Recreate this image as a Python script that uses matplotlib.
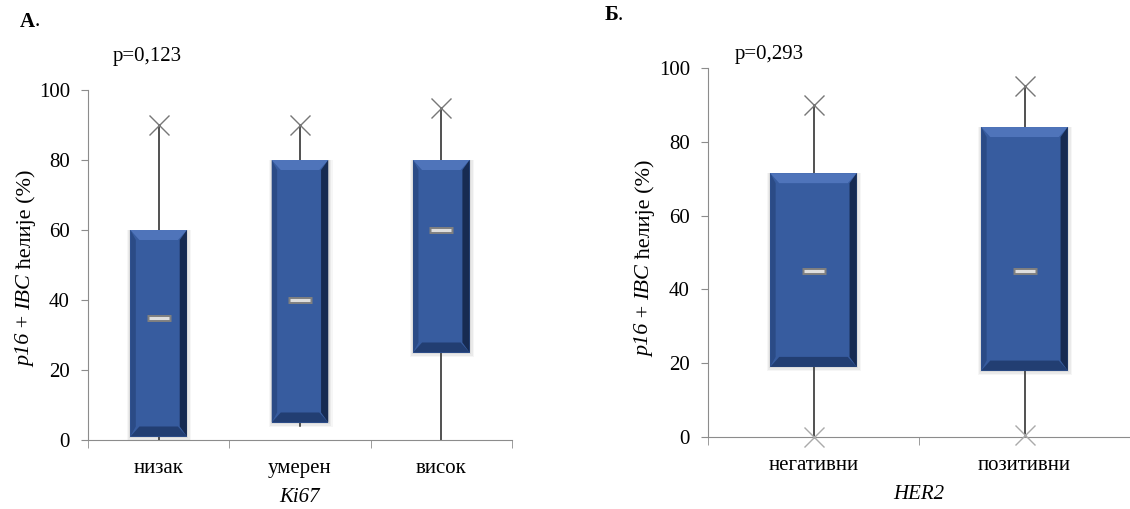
import matplotlib.pyplot as plt
from matplotlib.patches import Polygon, Rectangle
from matplotlib.transforms import IdentityTransform

plt.rcParams['font.family'] = ['Liberation Serif', 'DejaVu Serif']

# panel A: Ki67
ki67_cats = ['низак', 'умерен', 'висок']
ki67_min = [0, 4, 0]
ki67_q1 = [1, 5, 25]
ki67_med = [35, 40, 60]
ki67_q3 = [60, 80, 80]
ki67_max = [90, 90, 95]
ki67_x_marks = [[90], [90], [95]]

# panel B: HER2
her2_cats = ['негативни', 'позитивни']
her2_min = [0, 0]
her2_q1 = [19, 18]
her2_med = [45, 45]
her2_q3 = [71.5, 84]
her2_max = [90, 95]
her2_x_marks = [[90, 0], [95, 0.5]]

ylab_parts = [('p16', 'italic'), (' + ', 'normal'), ('IBC', 'italic'), (' ћелије (%)', 'normal')]

W, H = 1130, 509
fig = plt.figure(figsize=(W / 100, H / 100), dpi=100)

def px_axes(x0, y0, x1, y1):
  # pixel box (top-left origin) -> axes
  return fig.add_axes([x0 / W, 1 - y1 / H, (x1 - x0) / W, (y1 - y0) / H])

def bevel_box(ax, x, lo, hi, width, bpx_x, bpx_y):
  x0, x1 = x - width / 2, x + width / 2
  bb = ax.get_window_extent()
  xr = ax.get_xlim(); yr = ax.get_ylim()
  ux = (xr[1] - xr[0]) / bb.width
  uy = (yr[1] - yr[0]) / bb.height
  bx, by = bpx_x * ux, bpx_y * uy
  # soft shadow
  for k, a in [(3, 0.05), (2, 0.07), (1, 0.09)]:
    ax.add_patch(Rectangle((x0 - ux * k, lo - uy * 1.5 * k), width + ux * 2.5 * k,
                           hi - lo + uy * 1.5 * k, color='#505050', alpha=a, lw=0, zorder=2))
  ax.add_patch(Rectangle((x0, lo), width, hi - lo, color='#375C9F', lw=0, zorder=3))
  faces = [
    ([(x0, hi), (x1, hi), (x1 - bx, hi - by), (x0 + bx, hi - by)], '#4F74BA'),
    ([(x0, lo), (x1, lo), (x1 - bx, lo + by), (x0 + bx, lo + by)], '#223E72'),
    ([(x0, lo), (x0, hi), (x0 + bx * 0.6, hi - by), (x0 + bx * 0.6, lo + by)], '#2B4B86'),
    ([(x1, lo), (x1, hi), (x1 - bx * 0.8, hi - by), (x1 - bx * 0.8, lo + by)], '#172B52'),
  ]
  for pts, c in faces:
    ax.add_patch(Polygon(pts, closed=True, color=c, lw=0, zorder=4))

def mixed_ylabel(cx, cy, size=16):
  # rotated label with italic and upright pieces, centred at pixel (cx, cy from top)
  r = fig.canvas.get_renderer()
  widths = []
  for s, st in ylab_parts:
    t = fig.text(0, 0, s, fontsize=size, fontstyle=st)
    widths.append(t.get_window_extent(r).width)
    t.remove()
  y = (H - cy) - sum(widths) / 2
  for (s, st), w in zip(ylab_parts, widths):
    fig.text(cx, y, s, fontsize=size, fontstyle=st, rotation=90,
             ha='center', va='bottom', transform=IdentityTransform())
    y += w

def panel(ax, cats, mins, q1, med, q3, maxs, marks, width, xlab):
  n = len(cats)
  pos = list(range(1, n + 1))
  ax.set_xlim(0.5, n + 0.5)
  ax.set_ylim(0, 100)
  for i, x in enumerate(pos):
    ax.plot([x, x], [mins[i], maxs[i]], color='#222222', lw=1.1, zorder=1)
    bevel_box(ax, x, q1[i], q3[i], width, 9, 10)
    ax.plot([x], [med[i]], marker='_', ms=17, mew=5, color='#808080', zorder=6)
    ax.plot([x], [med[i]], marker='_', ms=15, mew=2.2, color='#dedede', zorder=7)
    for m in marks[i]:
      c = '#777777' if m > 10 else '#aaaaaa'
      ax.plot([x], [m], marker='x', ms=15, mew=1.0, color=c, zorder=8, clip_on=False)
  for s in ['top', 'right']:
    ax.spines[s].set_visible(False)
  for s in ['left', 'bottom']:
    ax.spines[s].set_color('#8c8c8c')
  ax.set_yticks(range(0, 101, 20))
  ax.tick_params(axis='y', length=5, color='#8c8c8c', labelsize=15, pad=8)
  ax.set_xticks(pos)
  ax.set_xticklabels(cats)
  ax.set_xticks([p + 0.5 for p in [0] + pos], minor=True)
  ax.tick_params(axis='x', which='major', length=0, labelsize=15, pad=14)
  ax.tick_params(axis='x', which='minor', length=6, color='#8c8c8c')
  ax.set_xlabel(xlab, fontsize=15, fontstyle='italic', labelpad=7)

ax1 = px_axes(88, 90, 512, 440)
panel(ax1, ki67_cats, ki67_min, ki67_q1, ki67_med, ki67_q3, ki67_max, ki67_x_marks, 0.4, 'Ki67')
mixed_ylabel(26, 268)

ax2 = px_axes(708, 68, 1130, 437)
panel(ax2, her2_cats, her2_min, her2_q1, her2_med, her2_q3, her2_max, her2_x_marks, 0.41, 'HER2')
mixed_ylabel(645, 258)

fig.text(20 / W, 1 - 22 / H, 'А', fontsize=15, fontweight='bold', va='center')
fig.text(35 / W, 1 - 22 / H, '.', fontsize=15, va='center')
fig.text(605 / W, 1 - 15 / H, 'Б', fontsize=15, fontweight='bold', va='center')
fig.text(618 / W, 1 - 15 / H, '.', fontsize=15, va='center')
fig.text(113 / W, 1 - 57 / H, 'p=0,123', fontsize=15, va='center')
fig.text(735 / W, 1 - 55 / H, 'p=0,293', fontsize=15, va='center')

fig.savefig('out.png', dpi=100)
